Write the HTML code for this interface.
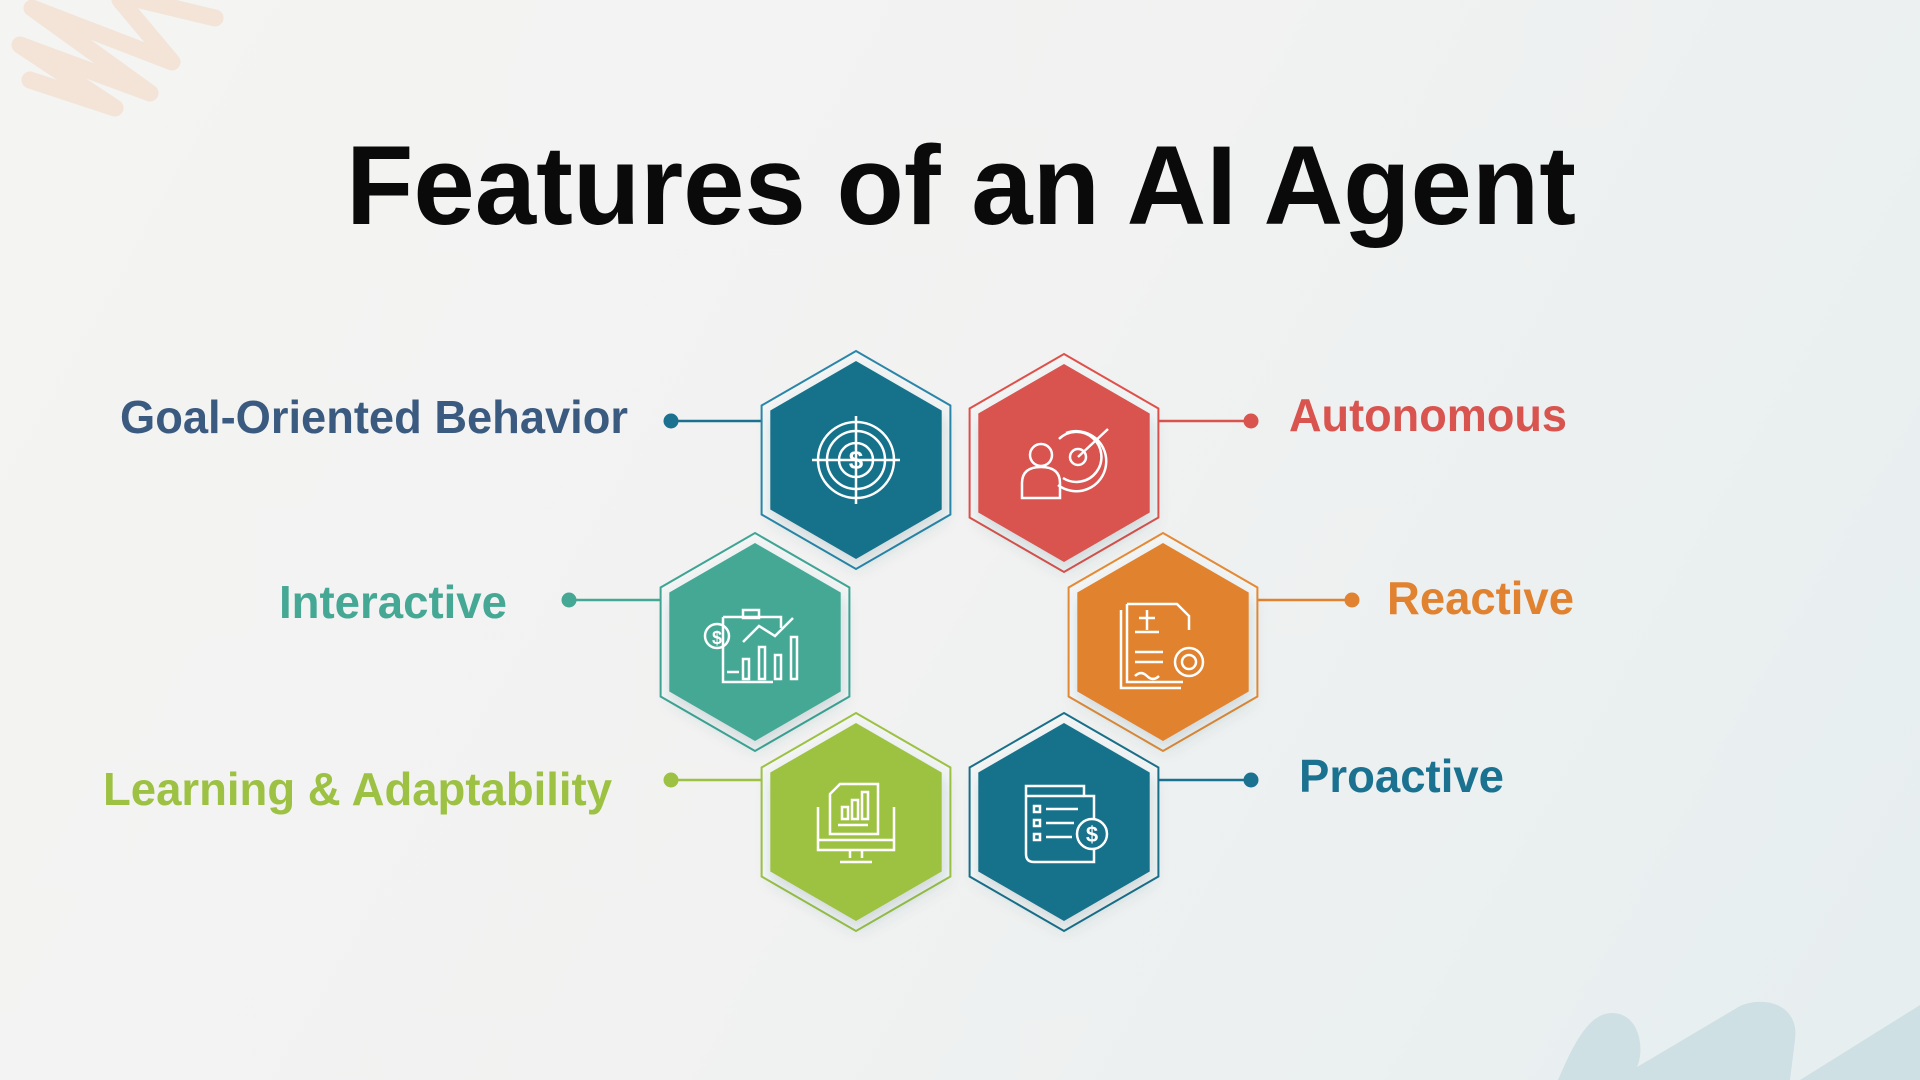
<!DOCTYPE html>
<html><head><meta charset="utf-8"><style>
html,body{margin:0;padding:0;width:1920px;height:1080px;overflow:hidden;}
body{background:linear-gradient(120deg,#f4f4f3 0%,#f1f2f1 50%,#e6eef0 100%);font-family:"Liberation Sans",Arial,sans-serif;}
svg{position:absolute;left:0;top:0}
</style></head><body>
<svg width="1920" height="1080" viewBox="0 0 1920 1080">
<defs>
<filter id="sh" x="-30%" y="-30%" width="160%" height="160%"><feDropShadow dx="2" dy="8" stdDeviation="8" flood-color="#2a5060" flood-opacity="0.18"/></filter>
<polygon id="ho" points="0,-109 94.4,-54.5 94.4,54.5 0,109 -94.4,54.5 -94.4,-54.5"/>
<polygon id="hf" points="0,-99 85.7,-49.5 85.7,49.5 0,99 -85.7,49.5 -85.7,-49.5"/>
</defs>
<g fill="none" stroke="#f3e4d7" stroke-width="17" stroke-linecap="round" stroke-linejoin="round">
<polyline points="30,80 115,108 20,45 150,93 32,8 172,62 120,0"/>
<line x1="140" y1="0" x2="215" y2="18"/>
</g>
<path d="M1558,1080 C1575,1040 1590,1013 1612,1013 C1640,1013 1645,1050 1637,1067 L1740,1006 C1765,995 1800,1005 1795,1040 L1790,1080 Z" fill="#cfe0e5"/>
<path d="M1800,1080 L1920,1005 L1920,1080 Z" fill="#cfe0e5"/>

<text x="346" y="224" font-size="112" font-weight="bold" fill="#0a0a0a" textLength="1230" lengthAdjust="spacingAndGlyphs">Features of an AI Agent</text>

<g font-weight="bold" font-size="46">
<text x="120" y="433" fill="#3b5a80" textLength="508" lengthAdjust="spacingAndGlyphs">Goal-Oriented Behavior</text>
<text x="1289" y="431" fill="#d9534f" textLength="278" lengthAdjust="spacingAndGlyphs">Autonomous</text>
<text x="279" y="618" fill="#45a895" textLength="228" lengthAdjust="spacingAndGlyphs">Interactive</text>
<text x="1387" y="614" fill="#e0822f" textLength="187" lengthAdjust="spacingAndGlyphs">Reactive</text>
<text x="103" y="805" fill="#9dc243" textLength="509" lengthAdjust="spacingAndGlyphs">Learning &amp; Adaptability</text>
<text x="1299" y="792" fill="#1a7290" textLength="205" lengthAdjust="spacingAndGlyphs">Proactive</text>
</g>

<g stroke-width="2.5">
<line x1="671" y1="421" x2="762" y2="421" stroke="#1a7290"/><circle cx="671" cy="421" r="7.5" fill="#1a7290"/>
<line x1="1158" y1="421" x2="1251" y2="421" stroke="#d9534f"/><circle cx="1251" cy="421" r="7.5" fill="#d9534f"/>
<line x1="569" y1="600" x2="662" y2="600" stroke="#45a895"/><circle cx="569" cy="600" r="7.5" fill="#45a895"/>
<line x1="1258" y1="600" x2="1352" y2="600" stroke="#e0822f"/><circle cx="1352" cy="600" r="7.5" fill="#e0822f"/>
<line x1="671" y1="780" x2="762" y2="780" stroke="#9dc243"/><circle cx="671" cy="780" r="7.5" fill="#9dc243"/>
<line x1="1158" y1="780" x2="1251" y2="780" stroke="#1a7290"/><circle cx="1251" cy="780" r="7.5" fill="#1a7290"/>
</g>

<g transform="translate(856,460)">
<use href="#ho" fill="#f4f6f6" stroke="#2a86aa" stroke-width="2"/>
<use href="#hf" fill="#19728b" filter="url(#sh)"/>
<g fill="none" stroke="#fff" stroke-width="2.5"><circle r="38"/><circle r="29"/><circle r="17"/><line x1="-44" y1="0" x2="44" y2="0"/><line x1="0" y1="-44" x2="0" y2="44"/></g>
<text y="9" text-anchor="middle" font-size="26" font-weight="bold" fill="#fff">$</text>
</g>
<g transform="translate(1064,463)">
<use href="#ho" fill="#f4f6f6" stroke="#e0504a" stroke-width="2"/>
<use href="#hf" fill="#d9534f" filter="url(#sh)"/>
<g fill="none" stroke="#fff" stroke-width="2.5"><circle cx="-23" cy="-8" r="11"/><path d="M-42,35 V20 Q-42,4 -23,4 Q-4,4 -4,20 V35 Z"/><circle cx="14" cy="-6" r="8"/><path d="M-5,-24 A25,25 0 1 1 -1,15"/><path d="M2,-30 A30,30 0 1 1 -6,22"/><line x1="14" y1="-6" x2="44" y2="-34"/></g>
</g>
<g transform="translate(755,642)">
<use href="#ho" fill="#f4f6f6" stroke="#3fa595" stroke-width="2"/>
<use href="#hf" fill="#45a895" filter="url(#sh)"/>
<g fill="none" stroke="#fff" stroke-width="2.5"><path d="M-32,-25 V40 H18"/><path d="M-32,-25 H26 V-14"/><rect x="-12" y="-32" width="16" height="8"/><circle cx="-38" cy="-6" r="12"/><rect x="-12" y="17" width="6" height="20"/><rect x="4" y="5" width="6" height="32"/><rect x="20" y="13" width="6" height="24"/><rect x="36" y="-5" width="6" height="42"/><polyline points="-12,0 4,-16 20,-6 38,-24"/><line x1="-28" y1="30" x2="-16" y2="30"/></g>
<text x="-38" y="2" text-anchor="middle" font-size="18" font-weight="bold" fill="#fff">$</text>
</g>
<g transform="translate(1163,642)">
<use href="#ho" fill="#f4f6f6" stroke="#e58a35" stroke-width="2"/>
<use href="#hf" fill="#e0822f" filter="url(#sh)"/>
<g fill="none" stroke="#fff" stroke-width="2.5"><path d="M-42,-32 V46 H18"/><path d="M-36,-38 H14 L26,-26 V-12 M-36,-38 V40 H20"/><line x1="-28" y1="-10" x2="-4" y2="-10"/><line x1="-28" y1="10" x2="0" y2="10"/><line x1="-28" y1="20" x2="0" y2="20"/><path d="M-28,34 q6,-6 12,0 t12,0"/><circle cx="26" cy="20" r="14"/><circle cx="26" cy="20" r="7"/><line x1="-24" y1="-24" x2="-8" y2="-24"/><line x1="-16" y1="-32" x2="-16" y2="-12"/></g>
</g>
<g transform="translate(856,822)">
<use href="#ho" fill="#f4f6f6" stroke="#9dc243" stroke-width="2"/>
<use href="#hf" fill="#9dc243" filter="url(#sh)"/>
<g fill="none" stroke="#fff" stroke-width="2.5"><path d="M-38,-15 V28 H38 V-15"/><line x1="-38" y1="18" x2="38" y2="18"/><path d="M-6,28 V36 M6,28 V36 M-16,40 H16"/><path d="M-26,-28 L-16,-38 H22 V12 H-26 Z"/><rect x="-14" y="-15" width="6" height="12"/><rect x="-4" y="-22" width="6" height="19"/><rect x="6" y="-30" width="6" height="27"/><line x1="-18" y1="3" x2="12" y2="3"/></g>
</g>
<g transform="translate(1064,822)">
<use href="#ho" fill="#f4f6f6" stroke="#1a6f8a" stroke-width="2"/>
<use href="#hf" fill="#19728b" filter="url(#sh)"/>
<g fill="none" stroke="#fff" stroke-width="2.5"><path d="M-38,-36 H20 V-26 H30 V40 H-30 Q-38,40 -38,32 Z"/><line x1="-38" y1="-26" x2="20" y2="-26"/><rect x="-30" y="-16" width="6" height="6"/><rect x="-30" y="-2" width="6" height="6"/><rect x="-30" y="12" width="6" height="6"/><line x1="-18" y1="-13" x2="14" y2="-13"/><line x1="-18" y1="1" x2="10" y2="1"/><line x1="-18" y1="15" x2="8" y2="15"/><circle cx="28" cy="12" r="15" fill="#19728b"/></g>
<text x="28" y="20" text-anchor="middle" font-size="22" font-weight="bold" fill="#fff">$</text>
</g>
</svg>
</body></html>
